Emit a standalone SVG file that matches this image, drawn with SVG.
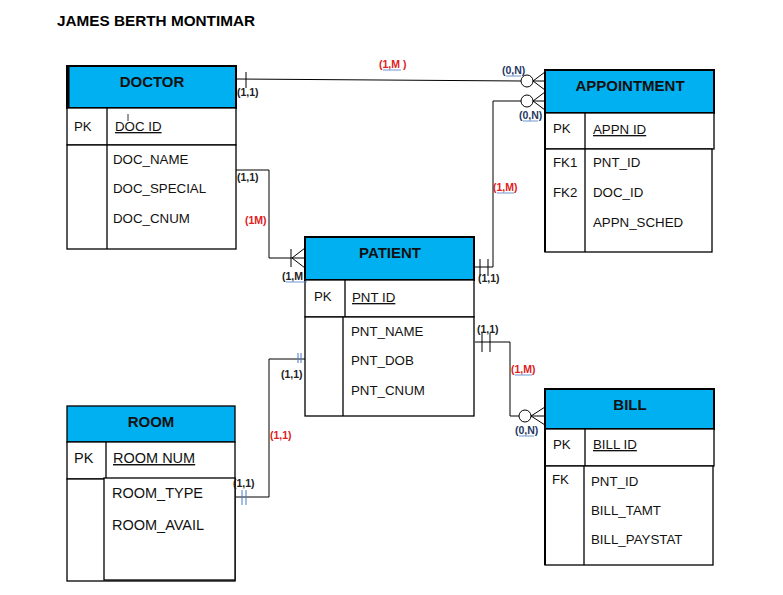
<svg xmlns="http://www.w3.org/2000/svg" width="783" height="595" viewBox="0 0 783 595">
<style>
.hdr{fill:#00B0F0;stroke:#000;stroke-width:2}
.box{fill:#fff;stroke:#000;stroke-width:1.3}
.ht{font-family:"Liberation Sans",Arial,sans-serif;font-weight:bold;font-size:15px;fill:#111;text-anchor:middle}
.at{font-family:"Liberation Sans",Arial,sans-serif;font-size:13.3px;fill:#111}
.rt{font-family:"Liberation Sans",Arial,sans-serif;font-size:14.5px;fill:#111}
.ul{text-decoration:underline}
.lb{font-family:"Liberation Sans",Arial,sans-serif;font-weight:bold;font-size:10.5px;fill:#222}
.red{fill:#E02020}
.nv{fill:#1F3864}
.ln{fill:none;stroke:#000;stroke-width:1}
.bl{fill:none;stroke:#4A7BC8;stroke-width:1}
.u{stroke:#4A7BC8;stroke-width:0.8}
</style>
<text x="57" y="26" style="font-family:'Liberation Sans',Arial,sans-serif;font-weight:bold;font-size:15.3px;fill:#000">JAMES BERTH MONTIMAR</text>

<g id="doctor">
<rect class="hdr" x="67" y="66" width="169" height="42"/>
<line x1="68" y1="66" x2="68" y2="108" stroke="#000" stroke-width="3"/>
<text class="ht" x="152" y="87">DOCTOR</text>
<rect class="box" x="67" y="108" width="169" height="37"/>
<line x1="107" y1="108" x2="107" y2="145" stroke="#000" stroke-width="1.3"/>
<rect class="box" x="67" y="145" width="169" height="104"/>
<line x1="107" y1="145" x2="107" y2="249" stroke="#000" stroke-width="1.3"/>
<text class="at" x="74" y="131">PK</text>
<text class="at ul" x="115" y="131">DOC ID</text>
<line x1="128" y1="114" x2="128" y2="121" stroke="#000" stroke-width="0.8"/>
<text class="at" x="113" y="164">DOC_NAME</text>
<text class="at" x="113" y="193">DOC_SPECIAL</text>
<text class="at" x="113" y="223">DOC_CNUM</text>
</g>

<g id="appointment">
<rect class="hdr" x="545" y="70" width="169" height="43"/>
<text class="ht" x="630" y="91">APPOINTMENT</text>
<rect class="box" x="545" y="113" width="169" height="36"/>
<line x1="585" y1="113" x2="585" y2="149" stroke="#000" stroke-width="1.3"/>
<rect class="box" x="545" y="149" width="167" height="103"/>
<line x1="585" y1="149" x2="585" y2="252" stroke="#000" stroke-width="1.3"/>
<line x1="545" y1="113" x2="545" y2="252" stroke="#000" stroke-width="2"/>
<text class="at" x="553" y="133">PK</text>
<text class="at ul" x="593" y="134">APPN ID</text>
<text class="at" x="553" y="167">FK1</text>
<text class="at" x="553" y="197">FK2</text>
<text class="at" x="593" y="167">PNT_ID</text>
<text class="at" x="593" y="197">DOC_ID</text>
<text class="at" x="593" y="227">APPN_SCHED</text>
</g>

<g id="patient">
<rect class="hdr" x="305" y="237" width="169" height="43"/>
<text class="ht" x="390" y="258">PATIENT</text>
<rect class="box" x="305" y="280" width="169" height="37"/>
<line x1="345" y1="280" x2="345" y2="317" stroke="#000" stroke-width="1.3"/>
<rect class="box" x="305" y="317" width="169" height="99"/>
<line x1="343" y1="317" x2="343" y2="416" stroke="#000" stroke-width="1.3"/>
<text class="at" x="314" y="301">PK</text>
<text class="at ul" x="352" y="302">PNT ID</text>
<text class="at" x="351" y="336">PNT_NAME</text>
<text class="at" x="351" y="365">PNT_DOB</text>
<text class="at" x="351" y="395">PNT_CNUM</text>
</g>

<g id="bill">
<rect class="hdr" x="545" y="389" width="169" height="40"/>
<text class="ht" x="630" y="410">BILL</text>
<rect class="box" x="545" y="429" width="169" height="37"/>
<line x1="585" y1="429" x2="585" y2="466" stroke="#000" stroke-width="1.3"/>
<rect class="box" x="545" y="466" width="168" height="99"/>
<line x1="584" y1="466" x2="584" y2="565" stroke="#000" stroke-width="1.3"/>
<line x1="545" y1="429" x2="545" y2="565" stroke="#000" stroke-width="2"/>
<text class="at" x="553" y="449">PK</text>
<text class="at ul" x="593" y="449">BILL ID</text>
<text class="at" x="552" y="484">FK</text>
<text class="at" x="591" y="486">PNT_ID</text>
<text class="at" x="591" y="515">BILL_TAMT</text>
<text class="at" x="591" y="544">BILL_PAYSTAT</text>
</g>

<g id="room">
<rect class="hdr" x="67" y="406" width="168" height="36" style="stroke-width:1.3"/>
<text class="ht" x="151" y="427">ROOM</text>
<rect class="box" x="67" y="442" width="168" height="37"/>
<line x1="106" y1="442" x2="106" y2="479" stroke="#000" stroke-width="1.3"/>
<rect class="box" x="67" y="479" width="168" height="102"/>
<rect class="box" x="104" y="478" width="131" height="102"/>
<text class="rt" x="74" y="463">PK</text>
<text class="rt ul" x="113" y="463">ROOM NUM</text>
<text class="rt" x="112" y="498">ROOM_TYPE</text>
<text class="rt" x="112" y="530">ROOM_AVAIL</text>
</g>

<g id="connectors">
<!-- Doctor - Appointment -->
<line class="ln" x1="236" y1="79" x2="521" y2="81"/>
<line class="ln" x1="246" y1="72" x2="246" y2="88"/>
<circle cx="527" cy="81" r="6" fill="#fff" stroke="#000" stroke-width="1"/>
<path class="ln" d="M545,72 L533,81 L545,90 M533,81 L545,81"/>
<text class="lb" x="237" y="96">(1,1)</text>
<text class="lb red" x="379" y="68">(1,M )</text>
<line class="u" x1="383" y1="70" x2="401" y2="70"/>
<text class="lb nv" x="502" y="74">(0,N)</text>
<line class="u" x1="506" y1="76" x2="521" y2="76"/>

<!-- Patient - Appointment -->
<path class="ln" d="M475,267 L493,267 L493,101 L521,101"/>
<line class="ln" x1="480" y1="259" x2="480" y2="276"/>
<line class="ln" x1="488" y1="259" x2="488" y2="276"/>
<circle cx="527" cy="101" r="6" fill="#fff" stroke="#000" stroke-width="1"/>
<path class="ln" d="M545,92 L533,101 L545,110 M533,101 L545,101"/>
<text class="lb" x="478" y="282">(1,1)</text>
<text class="lb red" x="493" y="191">(1,M)</text>
<line class="u" x1="497" y1="193" x2="514" y2="193"/>
<text class="lb nv" x="519" y="119">(0,N)</text>
<line class="u" x1="523" y1="121" x2="538" y2="121"/>

<!-- Doctor - Patient -->
<path class="ln" d="M236,170 L269,170 L269,258 L305,258"/>
<line class="ln" x1="291" y1="249" x2="291" y2="267"/>
<path class="ln" d="M305,248 L292,258 L305,268"/>
<text class="lb" x="237" y="181">(1,1)</text>
<text class="lb red" x="245" y="224">(1M)</text>
<text class="lb" x="282" y="280">(1,M</text>
<line class="u" x1="286" y1="282" x2="307" y2="282"/>

<!-- Room - Patient -->
<path class="ln" d="M236,497 L269,497 L269,359 L305,359"/>
<line class="bl" x1="298" y1="353" x2="298" y2="363"/>
<line class="bl" x1="301" y1="353" x2="301" y2="363"/>
<line class="bl" x1="242" y1="490" x2="242" y2="505"/>
<line class="bl" x1="246" y1="490" x2="246" y2="505"/>
<text class="lb" x="281" y="378">(1,1)</text>
<text class="lb" x="233" y="487">(1,1)</text>
<text class="lb red" x="270" y="439">(1,1)</text>

<!-- Patient - Bill -->
<path class="ln" d="M475,342 L510,342 L510,416 L519,416"/>
<line class="ln" x1="482" y1="333" x2="482" y2="352"/>
<line class="ln" x1="490" y1="333" x2="490" y2="352"/>
<circle cx="525" cy="416" r="6" fill="#fff" stroke="#000" stroke-width="1"/>
<path class="ln" d="M545,407 L531,416 L545,425 M531,416 L545,416"/>
<text class="lb" x="477" y="333">(1,1)</text>
<text class="lb red" x="511" y="373">(1,M)</text>
<line class="u" x1="515" y1="375" x2="532" y2="375"/>
<text class="lb nv" x="515" y="434">(0,N)</text>
<line class="u" x1="519" y1="436" x2="534" y2="436"/>
</g>
</svg>
